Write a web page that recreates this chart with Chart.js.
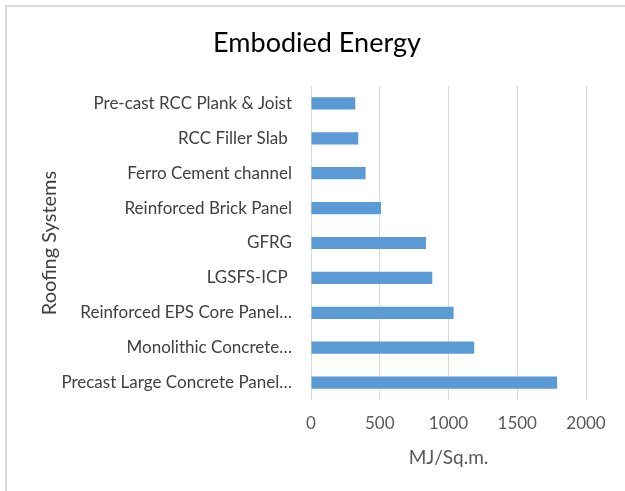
<!DOCTYPE html>
<html>
<head>
<meta charset="utf-8">
<script src="https://cdn.jsdelivr.net/npm/chart.js@4.4.1/dist/chart.umd.min.js"></script>
<style>
  html, body { margin: 0; padding: 0; background: #fff; overflow: hidden; }
  #wrap { position: relative; width: 625px; height: 491px; }
  #frame {
    position: absolute; left: 5px; top: 5px; width: 700px; height: 600px;
    border: 2px solid #d9d9d9; box-sizing: border-box;
  }
  #energyChart { position: absolute; left: 0; top: 0; }
</style>
</head>
<body>
<div id="wrap">
  <div id="frame"></div>
  <canvas id="energyChart" width="625" height="491"></canvas>
</div>
<script>
// Roofing systems, top to bottom
const systems = [
    'Pre-cast RCC Plank & Joist',
    'RCC Filler Slab ',
    'Ferro Cement channel',
    'Reinforced Brick Panel',
    'GFRG',
    'LGSFS-ICP ',
    'Reinforced EPS Core Panel…',
    'Monolithic Concrete…',
    'Precast Large Concrete Panel…'
];
// Embodied energy, MJ per sq.m.
const energy = [322, 344, 397, 509, 836, 882, 1037, 1187, 1790];
const xTicks = [0, 500, 1000, 1500, 2000];

const chartTitle = 'Embodied Energy';
const fontFamily = 'Lato, "Open Sans", sans-serif';

// draws the chart heading
const headingPlugin = {
    id: 'heading',
    afterDraw(chart) {
        const ctx = chart.ctx;
        ctx.save();
        ctx.font = '27px ' + fontFamily;
        ctx.fillStyle = '#000000';
        ctx.textAlign = 'center';
        ctx.textBaseline = 'middle';
        ctx.fillText(chartTitle, 317, 43);
        ctx.restore();
    }
};

document.addEventListener('DOMContentLoaded', function () {
    const ctx = document.getElementById('energyChart').getContext('2d');
    new Chart(ctx, {
        type: 'bar',
        data: {
            labels: systems,
            datasets: [{
                data: energy,
                backgroundColor: '#5b9bd5',
                borderWidth: 0,
                categoryPercentage: 1,
                barPercentage: 0.35
            }]
        },
        options: {
            indexAxis: 'y',
            responsive: false,
            animation: false,
            devicePixelRatio: 1,
            layout: {
                padding: { left: 34, right: 39, top: 86, bottom: 18 }
            },
            plugins: {
                legend: { display: false },
                tooltip: { enabled: false },
                title: { display: false }
            },
            scales: {
                x: {
                    min: 0,
                    max: 2000,
                    afterBuildTicks: function (scale) {
                        scale.ticks = xTicks.map(v => ({ value: v }));
                    },
                    afterFit: function (scale) {
                        scale.height = 73;
                    },
                    grid: {
                        color: '#d9d9d9',
                        lineWidth: 1,
                        drawTicks: false
                    },
                    border: { display: false },
                    ticks: {
                        padding: 13,
                        color: '#595959',
                        font: { family: fontFamily, size: 17 },
                        callback: function (value) {
                            return String(value);
                        }
                    },
                    title: {
                        display: true,
                        text: 'MJ/Sq.m.',
                        color: '#595959',
                        font: { family: fontFamily, size: 19 },
                        padding: { top: 4, bottom: 4 }
                    }
                },
                y: {
                    afterFit: function (scale) {
                        scale.width = 277;
                    },
                    grid: { display: false, drawTicks: false },
                    border: { display: false },
                    ticks: {
                        padding: 19,
                        color: '#404040',
                        font: { family: fontFamily, size: 17 }
                    },
                    title: {
                        display: true,
                        text: 'Roofing Systems',
                        color: '#404040',
                        font: { family: fontFamily, size: 20 },
                        padding: { top: 4, bottom: 4 }
                    }
                }
            }
        },
        plugins: [headingPlugin]
    });
});
</script>
</body>
</html>
